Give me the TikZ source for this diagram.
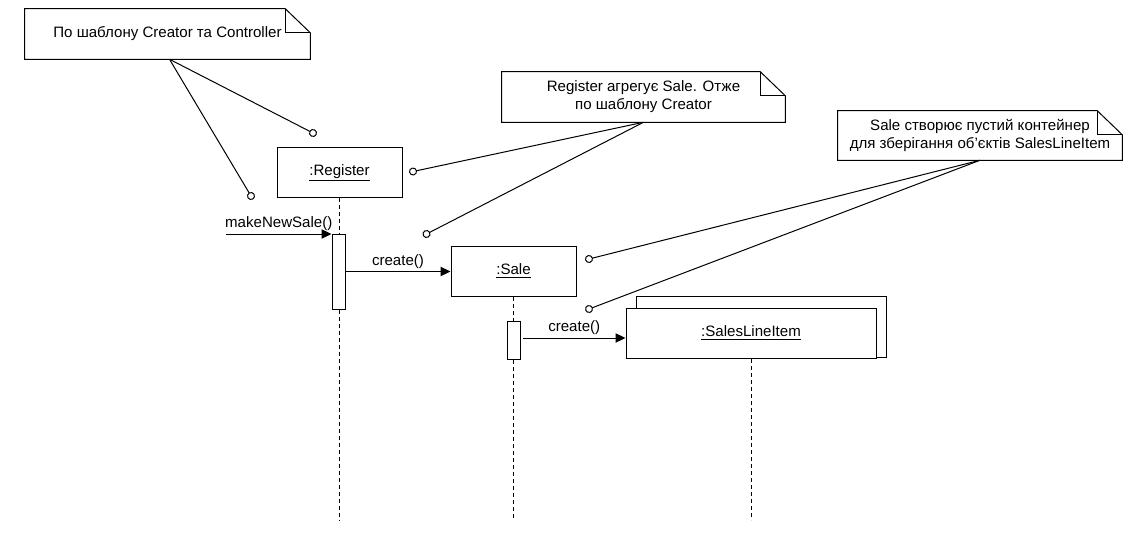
\documentclass[tikz,border=0pt]{standalone}
\usepackage{fontspec}
\setmainfont{Liberation Sans}
\usetikzlibrary{arrows.meta,positioning,calc}
\newcommand{\NoteOutline}[1]{%
  \draw[noteline] (#1.south west) -- (#1.north west) -- ($(#1.north east)+(-25,0)$)
    -- ($(#1.north east)+(0,24)$) -- (#1.south east) -- cycle;
  \draw[noteline] ($(#1.north east)+(-25,0)$) -- ($(#1.north east)+(-25,24)$) -- ($(#1.north east)+(0,24)$);}

\begin{document}
\begin{tikzpicture}[
    font=\fontsize{11.3}{13.4}\selectfont,
    obj/.style={draw, line width=0.75pt, fill=white, minimum width=93.75pt, minimum height=37.5pt, inner sep=0pt, text depth=0.6ex},
    act/.style={draw, line width=0.75pt, fill=white, minimum width=9.75pt, inner sep=0pt},
    note/.style={align=center, minimum height=37.5pt, inner sep=0pt},
    noteline/.style={line width=0.75pt},
    lifeline/.style={line width=0.75pt, dash pattern=on 3pt off 2.25pt},
    msg/.style={-{Triangle[length=7.5pt,width=7pt]}, line width=0.75pt},
    link/.style={-{Circle[open,fill=white,length=6pt,width=6pt]}, shorten >=-3pt, line width=0.75pt},
    lbl/.style={above, inner sep=2pt},
    x=0.75pt, y=-0.75pt
]
\useasboundingbox (0,0) rectangle (1135,532);

% --- Notes ---
\node[note, minimum width=213.75pt] (n1) at (167.5,34) {По шаблону Creator та Controller};
\node[note, minimum width=212.25pt] (n2) at (643.5,97) {Register агрегує Sale. Отже\\по шаблону Creator};
\node[note, minimum width=213pt, minimum height=36.75pt] (n3) at (980,135.5) {Sale створює пустий контейнер\\для зберігання об'єктів SalesLineItem};
\NoteOutline{n1}
\NoteOutline{n2}
\NoteOutline{n3}

% --- Objects ---
\coordinate (bottom) at (0,520);
\draw[line width=0.75pt, fill=white] (636,296) rectangle (886,357);
\node[obj] (reg) at (339.5,172) {\underline{:Register}};
\node[obj] (sale) at (513.5,271.5) {\underline{:Sale}};
\node[obj, minimum width=187.5pt] (sli) at (751,333.5) {\underline{:SalesLineItem}};

% --- Lifelines ---
\draw[lifeline] (reg.south) -- (reg.south |- bottom);
\draw[lifeline] (sale.south) -- (sale.south |- bottom);
\draw[lifeline] (sli.south) -- (sli.south |- bottom);

% --- Activations ---
\node[act, minimum height=56.25pt] (a1) at (338.5,271.5) {};
\node[act, minimum height=28.5pt] (a2) at (514,340) {};

% --- Messages ---
\coordinate (start) at (226,234);
\draw[msg] (start) -- node[lbl] {makeNewSale()} (start -| a1.west);
\draw[msg] (a1.east) -- node[lbl] {create()} (a1.east -| sale.west);
\draw[msg] ($(a2.east)+(2,-2)$) -- node[lbl] {create()} ($(a2.east -| sli.west)+(0,-2)$);

% --- Note links ---
\coordinate (c1) at (313,133);
\coordinate (c2) at (251,196);
\coordinate (c3) at (413,171.5);
\coordinate (c4) at (426.5,234);
\coordinate (c5) at (589,259);
\coordinate (c6) at (589,309);
\draw[link] ($(n1.south)+(2,0)$) -- (c1);
\draw[link] ($(n1.south)+(2,0)$) -- (c2);
\draw[link] (n2.south) -- (c3);
\draw[link] (n2.south) -- (c4);
\draw[link] (n3.south) -- (c5);
\draw[link] (n3.south) -- (c6);

\end{tikzpicture}
\end{document}
